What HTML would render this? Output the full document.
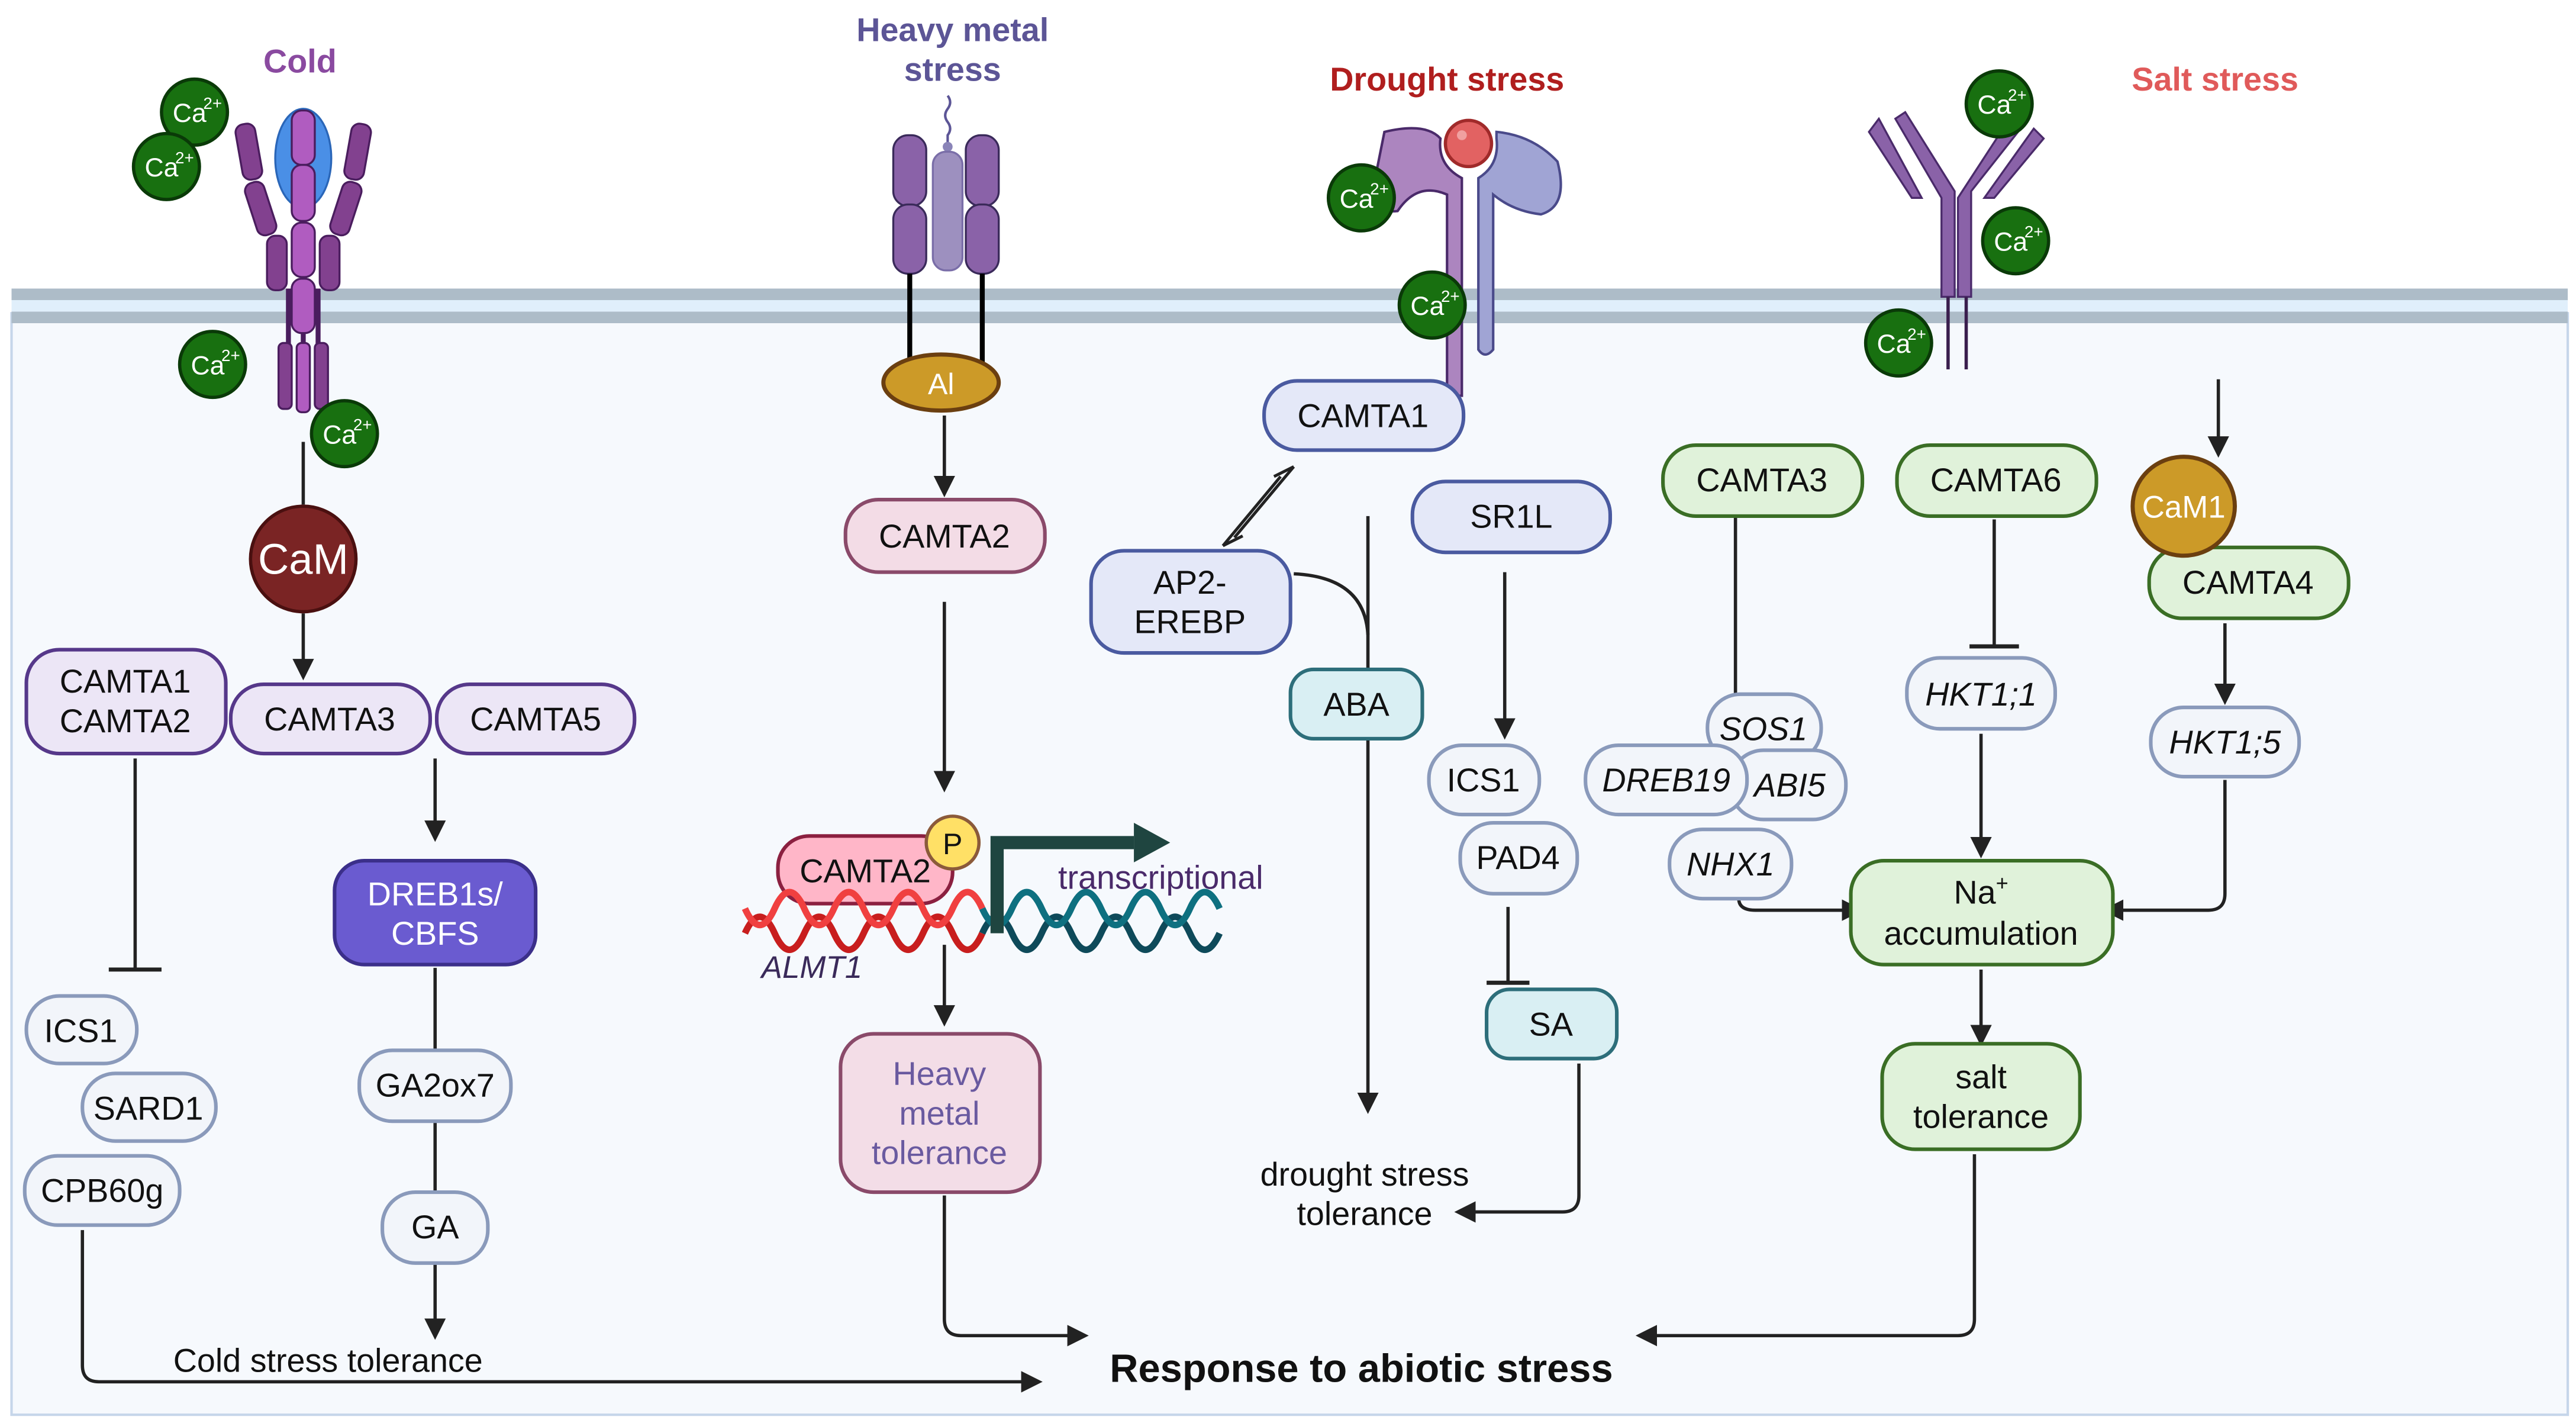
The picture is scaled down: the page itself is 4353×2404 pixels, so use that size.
<!DOCTYPE html>
<html><head><meta charset="utf-8"><style>
html,body{margin:0;padding:0;background:#fff;}
svg{display:block;}
text{font-family:"Liberation Sans",sans-serif;}
</style></head><body>
<svg width="4353" height="2404" viewBox="0 0 1563 863" preserveAspectRatio="none" xmlns="http://www.w3.org/2000/svg">
<defs>
<marker id="a" viewBox="0 0 10 10" refX="8" refY="5" markerWidth="13" markerHeight="13" orient="auto" markerUnits="userSpaceOnUse"><path d="M0,0 L10,5 L0,10 Z" fill="#222"/></marker>
<g id="ca"><circle r="20" fill="#187010" stroke="#0a3a08" stroke-width="2"/><text x="-3" y="6" text-anchor="middle" font-size="16" fill="#fff">Ca</text><text x="11" y="-2" text-anchor="middle" font-size="10" fill="#fff">2+</text></g>
</defs>
<rect width="1563" height="863" fill="#fff"/>
<rect x="7" y="190" width="1551" height="668" fill="#f6f9fd" stroke="#c6d6ea" stroke-width="1.5"/>
<rect x="7" y="175" width="1551" height="7" fill="#adbcc8"/>
<rect x="7" y="182" width="1551" height="7" fill="#e0effb"/>
<rect x="7" y="189" width="1551" height="7" fill="#adbcc8"/>

<g stroke="#222" stroke-width="2" fill="none">
<line x1="184" y1="268" x2="184" y2="306"/>
<line x1="184" y1="372" x2="184" y2="410" marker-end="url(#a)"/>
<line x1="82" y1="460" x2="82" y2="588"/><line x1="66" y1="588" x2="98" y2="588" stroke-width="2.5"/>
<line x1="264" y1="460" x2="264" y2="508" marker-end="url(#a)"/>
<line x1="264" y1="587" x2="264" y2="637"/>
<line x1="264" y1="681" x2="264" y2="723"/>
<line x1="264" y1="767" x2="264" y2="810" marker-end="url(#a)"/>
<path d="M50,746 V828 Q50,838 60,838 H630" marker-end="url(#a)"/>
<line x1="573" y1="252" x2="573" y2="299" marker-end="url(#a)"/>
<line x1="573" y1="365" x2="573" y2="478" marker-end="url(#a)"/>
<line x1="573" y1="573" x2="573" y2="620" marker-end="url(#a)"/>
<path d="M573,725 V800 Q573,810 583,810 H658" marker-end="url(#a)"/>
<path d="M785,348 Q828,350 830,385"/>
<line x1="830" y1="313" x2="830" y2="673" marker-end="url(#a)"/>
<line x1="913" y1="347" x2="913" y2="446" marker-end="url(#a)"/>
<line x1="915" y1="550" x2="915" y2="596"/><line x1="902" y1="596" x2="928" y2="596" stroke-width="2.5"/>
<path d="M958,645 V725 Q958,735 948,735 H885" marker-end="url(#a)"/>
<line x1="1346" y1="230" x2="1346" y2="275" marker-end="url(#a)"/>
<line x1="1053" y1="313" x2="1053" y2="421"/>
<line x1="1210" y1="315" x2="1210" y2="392"/><line x1="1195" y1="392" x2="1225" y2="392" stroke-width="2.5"/>
<line x1="1202" y1="445" x2="1202" y2="518" marker-end="url(#a)"/>
<line x1="1350" y1="378" x2="1350" y2="425" marker-end="url(#a)"/>
<path d="M1055,545 Q1055,552 1065,552 H1128" marker-end="url(#a)"/>
<path d="M1350,473 V542 Q1350,552 1340,552 H1278" marker-end="url(#a)"/>
<line x1="1202" y1="588" x2="1202" y2="632" marker-end="url(#a)"/>
<path d="M1198,700 V800 Q1198,810 1188,810 H995" marker-end="url(#a)"/>
</g>
<!-- equilibrium harpoons -->
<g stroke="#222" stroke-width="1.8" fill="none">
<path d="M785,283 L749,326"/><path d="M777,289 L742,331"/>
<path d="M785,283 L773,289"/><path d="M742,331 L754,325"/>
</g>

<!-- cold receptor -->
<g stroke="#4a1d5e" stroke-width="1.2">
<line x1="175" y1="175" x2="175" y2="210" stroke-width="3"/>
<line x1="184" y1="175" x2="184" y2="210" stroke-width="3"/>
<line x1="193" y1="175" x2="193" y2="210" stroke-width="3"/>
<ellipse cx="184" cy="96" rx="17" ry="30" fill="#4a8fe6" stroke="#2a66b8"/>
<rect x="145" y="75" width="12" height="34" rx="5" fill="#82418f" transform="rotate(-10 151 92)"/>
<rect x="211" y="75" width="12" height="34" rx="5" fill="#82418f" transform="rotate(10 217 92)"/>
<rect x="152" y="110" width="12" height="33" rx="5" fill="#82418f" transform="rotate(-18 158 126)"/>
<rect x="204" y="110" width="12" height="33" rx="5" fill="#82418f" transform="rotate(18 210 126)"/>
<rect x="162" y="143" width="12" height="33" rx="5" fill="#82418f"/>
<rect x="194" y="143" width="12" height="33" rx="5" fill="#82418f"/>
<rect x="177" y="67" width="14" height="33" rx="6" fill="#b05cc0"/>
<rect x="177" y="100" width="14" height="34" rx="6" fill="#b05cc0"/>
<rect x="177" y="135" width="14" height="33" rx="6" fill="#b05cc0"/>
<rect x="177" y="169" width="14" height="33" rx="6" fill="#b05cc0"/>
<rect x="169" y="208" width="8" height="40" rx="3" fill="#82418f"/>
<rect x="180" y="208" width="8" height="42" rx="3" fill="#b05cc0"/>
<rect x="191" y="208" width="8" height="40" rx="3" fill="#82418f"/>
</g>
<use href="#ca" x="118" y="68"/><use href="#ca" x="101" y="101"/><use href="#ca" x="129" y="221"/><use href="#ca" x="209" y="263"/>
<circle cx="184" cy="339" r="32" fill="#7a2424" stroke="#4a1010" stroke-width="2"/>
<text x="184" y="348" text-anchor="middle" font-size="26" fill="#fff">CaM</text>

<!-- heavy receptor -->
<path d="M575,58 q3,4 0,8 q-3,4 0,8 q3,4 0,8 v6" stroke="#5c5596" stroke-width="1.5" fill="none"/>
<circle cx="575" cy="89" r="3" fill="#8a84b8"/>
<g stroke="#3a2a5a" stroke-width="1.2">
<rect x="542" y="82" width="20" height="43" rx="9" fill="#8a62a8"/>
<rect x="542" y="124" width="20" height="42" rx="9" fill="#8a62a8"/>
<rect x="586" y="82" width="20" height="43" rx="9" fill="#8a62a8"/>
<rect x="586" y="124" width="20" height="42" rx="9" fill="#8a62a8"/>
<rect x="566" y="92" width="18" height="72" rx="8" fill="#9d90bf" stroke="#7a6ea8"/>
</g>
<line x1="552" y1="166" x2="552" y2="222" stroke="#000" stroke-width="3"/>
<line x1="596" y1="166" x2="596" y2="222" stroke="#000" stroke-width="3"/>
<ellipse cx="571" cy="232" rx="35" ry="17" fill="#cc9a28" stroke="#6b3f10" stroke-width="2.5"/>
<text x="571" y="239" text-anchor="middle" font-size="18" fill="#fff">Al</text>

<!-- drought receptor -->
<path d="M840,80 Q865,74 874,84 Q872,100 887,108 L887,240 L878,240 L878,118 Q860,110 848,128 Q830,130 834,110 Z" fill="#ac85bf" stroke="#4a2a6a" stroke-width="1.5"/>
<path d="M908,80 Q930,82 945,98 Q952,125 935,130 Q918,128 906,118 L906,212 Q901,218 897,212 L897,108 Q910,100 908,84 Z" fill="#a0a4d4" stroke="#4a4a8a" stroke-width="1.5"/>
<circle cx="891" cy="87" r="14" fill="#e26262" stroke="#a02a2a" stroke-width="2"/>
<circle cx="887" cy="82" r="3" fill="#f0a0a0"/>
<use href="#ca" x="826" y="120"/><use href="#ca" x="869" y="185"/>

<!-- salt receptor -->
<g fill="#8a62a8" stroke="#4a2a6a" stroke-width="1.2">
<path d="M1134,80 L1160,120 L1166,120 L1140,72 Z"/>
<path d="M1150,72 L1178,120 L1178,180 L1186,180 L1186,116 L1156,68 Z"/>
<path d="M1240,84 L1210,120 L1204,120 L1234,78 Z"/>
<path d="M1226,78 L1196,116 L1196,180 L1188,180 L1188,120 L1218,74 Z"/>
</g>
<line x1="1182" y1="180" x2="1182" y2="224" stroke="#3a1e4e" stroke-width="2"/>
<line x1="1193" y1="180" x2="1193" y2="224" stroke="#3a1e4e" stroke-width="2"/>
<use href="#ca" x="1213" y="63"/><use href="#ca" x="1223" y="146"/><use href="#ca" x="1152" y="208"/>

<g font-weight="bold" font-size="20" text-anchor="middle">
<text x="182" y="44" fill="#8a4aa0">Cold</text>
<text x="578" y="25" fill="#5c5596">Heavy metal</text>
<text x="578" y="49" fill="#5c5596">stress</text>
<text x="878" y="55" fill="#b01e1e">Drought stress</text>
<text x="1344" y="55" fill="#e05a5a">Salt stress</text>
</g>

<g stroke-width="2.2" font-size="19" text-anchor="middle">
<g stroke="#56388a" fill="#ece6f6">
<rect x="16" y="394" width="121" height="63" rx="20"/>
<rect x="140" y="415" width="121" height="42" rx="20"/>
<rect x="265" y="415" width="120" height="42" rx="20"/>
</g>
<rect x="203" y="522" width="122" height="63" rx="18" fill="#6a5bd0" stroke="#3b2f8a"/>
<g stroke="#8a9abb" fill="#f2f5fa">
<rect x="16" y="604" width="67" height="41" rx="20"/>
<rect x="50" y="651" width="81" height="41" rx="20"/>
<rect x="15" y="701" width="94" height="42" rx="20"/>
<rect x="218" y="637" width="92" height="43" rx="20"/>
<rect x="232" y="723" width="64" height="43" rx="20"/>
<rect x="867" y="452" width="67" height="42" rx="20"/>
<rect x="886" y="499" width="71" height="43" rx="20"/>
<rect x="1036" y="421" width="69" height="41" rx="20"/>
<rect x="1050" y="455" width="70" height="42" rx="20"/>
<rect x="962" y="452" width="98" height="42" rx="20"/>
<rect x="1013" y="503" width="74" height="42" rx="20"/>
<rect x="1157" y="399" width="90" height="43" rx="20"/>
<rect x="1305" y="429" width="90" height="42" rx="20"/>
</g>
<rect x="513" y="303" width="121" height="44" rx="20" fill="#f3dce6" stroke="#8a4a6a"/>
<rect x="510" y="627" width="121" height="96" rx="20" fill="#f3dde7" stroke="#8a4a6a"/>
<rect x="472" y="507" width="106" height="41" rx="19" fill="#ffb6c8" stroke="#8b2040"/>
<g stroke="#4a5aa0" fill="#e4e8f8">
<rect x="767" y="231" width="121" height="42" rx="20"/>
<rect x="662" y="334" width="121" height="62" rx="20"/>
<rect x="857" y="292" width="120" height="43" rx="20"/>
</g>
<g stroke="#2d6e7a" fill="#d9eff3">
<rect x="783" y="406" width="80" height="42" rx="14"/>
<rect x="902" y="600" width="79" height="42" rx="14"/>
</g>
<g stroke="#3a6e25" fill="#e0f2da">
<rect x="1009" y="270" width="121" height="43" rx="20"/>
<rect x="1151" y="270" width="121" height="43" rx="20"/>
<rect x="1304" y="332" width="121" height="43" rx="20"/>
<rect x="1123" y="522" width="159" height="63" rx="20"/>
<rect x="1142" y="633" width="120" height="64" rx="20"/>
</g>
</g>
<circle cx="578" cy="511" r="16" fill="#ffe066" stroke="#8b5a3a" stroke-width="2"/>
<text x="578" y="518" text-anchor="middle" font-size="18" fill="#111">P</text>
<ellipse cx="1325" cy="307" rx="31" ry="30" fill="#cc9a28" stroke="#6b3f10" stroke-width="2.5"/>
<text x="1325" y="314" text-anchor="middle" font-size="19" fill="#fff">CaM1</text>

<g fill="none" stroke-width="4">
<path d="M452,566 q9,-20 18,0 t18,0 t18,0 t18,0 t18,0 t18,0 t18,0 t18,0" stroke="#c81e1e"/>
<path d="M452,551 q9,20 18,0 t18,0 t18,0 t18,0 t18,0 t18,0 t18,0 t18,0" stroke="#f04040"/>
<path d="M596,566 q9,-20 18,0 t18,0 t18,0 t18,0 t18,0 t18,0 t18,0 t18,0" stroke="#0e4a5a"/>
<path d="M596,551 q9,20 18,0 t18,0 t18,0 t18,0 t18,0 t18,0 t18,0 t18,0" stroke="#0e7080"/>
</g>
<path d="M605,566 V511 H688" fill="none" stroke="#1f4540" stroke-width="8"/>
<path d="M688,499 L710,511 L688,523 Z" fill="#1f4540"/>
<text x="642" y="539" font-size="20" fill="#4a2a6a">transcriptional</text>
<text x="462" y="593" font-size="19" font-style="italic" fill="#3a2a5a">ALMT1</text>

<g font-size="20" text-anchor="middle" fill="#111">
<text x="76" y="420">CAMTA1</text><text x="76" y="444">CAMTA2</text>
<text x="200" y="443">CAMTA3</text>
<text x="325" y="443">CAMTA5</text>
<text x="264" y="549" fill="#fff">DREB1s/</text><text x="264" y="573" fill="#fff">CBFS</text>
<text x="49" y="632">ICS1</text>
<text x="90" y="679">SARD1</text>
<text x="62" y="729">CPB60g</text>
<text x="264" y="665">GA2ox7</text>
<text x="264" y="751">GA</text>
<text x="573" y="332">CAMTA2</text>
<text x="525" y="535">CAMTA2</text>
<text x="570" y="658" fill="#6a5aa0">Heavy</text><text x="570" y="682" fill="#6a5aa0">metal</text><text x="570" y="706" fill="#6a5aa0">tolerance</text>
<text x="827" y="259">CAMTA1</text>
<text x="722" y="360">AP2-</text><text x="722" y="384">EREBP</text>
<text x="917" y="320">SR1L</text>
<text x="823" y="434">ABA</text>
<text x="900" y="480">ICS1</text>
<text x="921" y="527">PAD4</text>
<text x="941" y="628">SA</text>
<text x="828" y="719">drought stress</text><text x="828" y="743">tolerance</text>
<text x="1069" y="298">CAMTA3</text>
<text x="1211" y="298">CAMTA6</text>
<text x="1364" y="360">CAMTA4</text>
<g font-style="italic">
<text x="1070" y="449">SOS1</text>
<text x="1086" y="483">ABI5</text>
<text x="1011" y="480">DREB19</text>
<text x="1050" y="531">NHX1</text>
<text x="1202" y="428">HKT1;1</text>
<text x="1350" y="457">HKT1;5</text>
</g>
<text x="1202" y="548">Na<tspan font-size="13" dy="-8">+</tspan></text>
<text x="1202" y="573">accumulation</text>
<text x="1202" y="660">salt</text><text x="1202" y="684">tolerance</text>
<text x="199" y="832">Cold stress tolerance</text>
<text x="826" y="838" font-weight="bold" font-size="24">Response to abiotic stress</text>
</g>
</svg>
</body></html>
